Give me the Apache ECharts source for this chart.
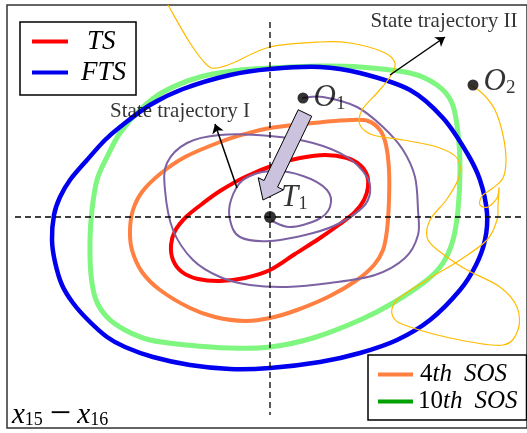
<!DOCTYPE html>
<html>
<head>
<meta charset="utf-8">
<script src="https://cdn.jsdelivr.net/npm/echarts@6/dist/echarts.min.js"></script>
<style>html,body{margin:0;padding:0;background:#fff}#c{width:527px;height:433px}</style>
</head>
<body>
<div id="c"></div>
<script>
// ---- data (state-plane coordinates, origin at target T1) ----
const tsCurve = [[7,53],[30,59],[55,62],[77,59],[90,52],[97,42],[98,30],[94,17],[85,5],[70,-7],[50,-21],[25,-37],[0,-53],[-25,-61],[-50,-64],[-72,-62],[-88,-55],[-97,-43],[-99,-28],[-95,-14],[-84,0],[-68,13],[-50,26],[-25,40],[7,53]];
const ftsCurve = [[0,148],[50,150],[90,144],[140,127],[173,99],[197,64],[210,37],[217,4],[215,-23],[206,-48],[190,-73],[160,-103],[127,-123],[90,-136],[50,-145],[0,-151],[-40,-152],[-80,-148],[-117,-140],[-145,-130],[-163,-120],[-182,-103],[-197,-86],[-208,-68],[-215,-45],[-218,-23],[-216,2],[-210,20],[-200,37],[-183,57],[-165,77],[-150,90],[-120,112],[-87,128],[-40,142],[0,148]];
const sos4Curve = [[0,89],[43,94],[80,97],[98,96],[110,87],[116,72],[119,47],[119,17],[117,-13],[113,-33],[104,-48],[87,-63],[60,-79],[27,-93],[0,-101],[-25,-104],[-55,-100],[-80,-91],[-110,-73],[-128,-55],[-138,-33],[-140,-13],[-137,7],[-128,25],[-110,43],[-85,60],[-50,75],[-25,83],[0,89]];
const sos10Curve = [[0,149],[50,151],[90,150],[140,144],[167,132],[182,114],[188,84],[190,47],[188,7],[183,-23],[173,-46],[157,-63],[123,-86],[90,-103],[43,-121],[0,-130],[-40,-131],[-83,-128],[-120,-123],[-145,-113],[-163,-100],[-174,-83],[-179,-58],[-180,-23],[-178,7],[-173,37],[-163,60],[-150,84],[-130,107],[-107,125],[-70,140],[-30,147],[0,149]];
const trajectoryI = [[33,119],[53,120],[87,110],[113,90],[133,67],[145,40],[148,7],[148,-18],[135,-41],[105,-58],[60,-66],[17,-70],[-20,-68],[-50,-60],[-77,-43],[-97,-13],[-105,27],[-103,54],[-83,74],[-50,82],[0,81],[43,74],[77,60],[97,40],[100,24],[93,10],[70,-6],[43,-16],[0,-24],[-30,-20],[-40,-3],[-39,17],[-27,37],[0,46],[33,41],[57,27],[60,10],[47,-3],[20,-10],[2,-4]];
const trajectoryII = [[201,132],[214,122],[225,107],[233,82],[236,57],[233,39],[223,29],[212,21],[210,12],[218,10],[227,19],[229,29],[228,12],[227,-3],[217,-23],[190,-43],[157,-63],[127,-83],[123,-100],[140,-110],[190,-123],[233,-128],[248,-113],[247,-90],[230,-70],[197,-53],[177,-40],[158,-23],[160,-3],[177,18],[189,40],[187,59],[167,70],[133,77],[103,82],[90,92],[92,107],[107,124],[120,140],[125,154],[113,165],[80,174],[50,175],[0,170],[-37,154],[-53,149],[-63,152],[-80,174],[-102,212]];
const crossH = [[-255,0],[252,0]];
const crossV = [[0,195],[0,-198]];
const pointCoords = [[0,0],[33,119],[203,132]];
const pointNames = ['T','O','O'];
const pointSubs = ['1','1','2'];
const moveArrow = [35,104,-7,17];
const noteArrows = [[[-33,29],[-55,93]],[[120,142],[175,180]]];
const noteTexts = ['State trajectory I','State trajectory II'];
const notePos = [[-90,106],[174,196]];

const SERIF = 'Liberation Serif, Times New Roman, serif';
const chart = echarts.init(document.getElementById('c'), null, {renderer:'canvas'});

// Smooth (Catmull-Rom) path through the projected data points
function splinePath(P, closed){
  const n = P.length;
  const get = i => closed ? P[(i % n + n) % n] : P[Math.max(0, Math.min(n - 1, i))];
  let d = 'M' + P[0][0].toFixed(2) + ' ' + P[0][1].toFixed(2);
  const segs = closed ? n : n - 1;
  for (let i = 0; i < segs; i++){
    const p0 = get(i-1), p1 = get(i), p2 = get(i+1), p3 = get(i+2);
    const c1 = [p1[0] + (p2[0]-p0[0])/6, p1[1] + (p2[1]-p0[1])/6];
    const c2 = [p2[0] - (p3[0]-p1[0])/6, p2[1] - (p3[1]-p1[1])/6];
    d += ' C' + c1[0].toFixed(2) + ' ' + c1[1].toFixed(2) + ' ' + c2[0].toFixed(2) + ' ' + c2[1].toFixed(2) + ' ' + p2[0].toFixed(2) + ' ' + p2[1].toFixed(2);
  }
  if (closed) d += ' Z';
  return d;
}
function curve(name, data, color, width, z, closed){
  return {name, type:'custom', data, z, silent:true, clip:true, itemStyle:{color},
    renderItem:(params, api) => {
      if (params.dataIndex !== 0) return null;
      let pts = data.map(p => api.coord(p));
      if (closed) pts = pts.slice(0, -1);
      return {type:'path', shape:{pathData:splinePath(pts, closed)},
              style:{stroke:color, lineWidth:width, fill:'none', lineJoin:'round', lineCap:'round'}};
    }};
}

const legendFont = {fontFamily:SERIF, fontStyle:'italic', fontSize:27, lineHeight:27, color:'#000'};
const sosFont = {fontFamily:SERIF, fontSize:25, lineHeight:25, color:'#000'};

chart.setOption({
  animation:false,
  grid:{left:7, right:0, top:5, bottom:5, show:true, borderColor:'#333', borderWidth:1.5, backgroundColor:'#fff'},
  xAxis:{type:'value', min:-263, max:257, show:false},
  yAxis:{type:'value', min:-211, max:212, show:false},
  legend:[
    {data:['TS','FTS'], orient:'vertical', left:20, top:22, padding:[6,10,9,12],
     itemWidth:36, itemHeight:4, itemGap:4, icon:'rect',
     borderColor:'#000', borderWidth:1.5, backgroundColor:'#fff', selectedMode:false,
     formatter:n => n==='TS' ? '{g| }{t|TS}' : '{h| }{t|FTS}',
     textStyle:Object.assign({}, legendFont, {rich:{t:legendFont,
       g:{width:14, fontSize:27, lineHeight:27}, h:{width:8, fontSize:27, lineHeight:27}}})},
    {data:[{name:'4th SOS', itemStyle:{color:'#ff8040'}}, {name:'10th SOS', itemStyle:{color:'#00a000'}}],
     orient:'vertical', left:368, top:355, padding:[7,9,6,10],
     itemWidth:35, itemHeight:4, itemGap:2, icon:'rect',
     borderColor:'#000', borderWidth:1.5, backgroundColor:'#fff', selectedMode:false,
     formatter:n => n==='4th SOS' ? '{g| }{n|4}{i|th}{sp| }{i|SOS}' : '{n|10}{i|th}{sp| }{i|SOS}',
     textStyle:Object.assign({}, sosFont, {rich:{
       n:sosFont, i:Object.assign({}, sosFont, {fontStyle:'italic'}),
       g:{width:2, fontSize:25, lineHeight:25}, sp:{width:12, fontSize:25, lineHeight:25}}})}
  ],
  graphic:[{type:'text', left:12, top:396, z:100,
    style:{text:'{v|x}{s|15}{o|−}{v|x}{s|16}', rich:{
      v:{fontFamily:SERIF, fontStyle:'italic', fontSize:29, lineHeight:28},
      s:{fontFamily:SERIF, fontSize:18, verticalAlign:'bottom', lineHeight:17},
      o:{fontFamily:SERIF, fontSize:38, lineHeight:28, padding:[0,6,0,7]}}}}],
  series:[
    curve('10th SOS', sos10Curve, '#7ff67f', 5, 2, true),
    curve('FTS', ftsCurve, '#0000ee', 4.5, 3, true),
    curve('4th SOS', sos4Curve, '#ff8040', 4, 4, true),
    curve('TS', tsCurve, '#ff0000', 4, 5, true),
    curve('State trajectory I', trajectoryI, '#7d62a3', 2, 6, false),
    curve('State trajectory II', trajectoryII, '#ffbb00', 1.2, 6, false),
    {type:'line', data:crossH, showSymbol:false, symbol:'none', z:7, silent:true, lineStyle:{color:'#000', width:1.3, type:[6,4]}},
    {type:'line', data:crossV, showSymbol:false, symbol:'none', z:7, silent:true, lineStyle:{color:'#000', width:1.3, type:[6,4]}},
    {type:'lines', coordinateSystem:'cartesian2d', z:8, silent:true,
     symbol:['none','arrow'], symbolSize:[0,9],
     lineStyle:{color:'#000', width:1.5, opacity:1},
     data:noteArrows.map(c => ({coords:c}))},
    {type:'custom', z:9, silent:true, data:[moveArrow],
     renderItem:(params, api) => {
       const p0 = api.coord([api.value(0), api.value(1)]);
       const p1 = api.coord([api.value(2), api.value(3)]);
       const dx = p1[0]-p0[0], dy = p1[1]-p0[1], L = Math.hypot(dx,dy);
       const ux = dx/L, uy = dy/L, nx = -uy, ny = ux;
       const hl = 18, hw = 14, sw = 7.5;
       const bx = p1[0]-ux*hl, by = p1[1]-uy*hl;
       const pts = [[p0[0]+nx*sw, p0[1]+ny*sw],[bx+nx*sw, by+ny*sw],[bx+nx*hw, by+ny*hw],p1,
                    [bx-nx*hw, by-ny*hw],[bx-nx*sw, by-ny*sw],[p0[0]-nx*sw, p0[1]-ny*sw]];
       return {type:'polygon', shape:{points:pts}, style:{fill:'#cbc3de', stroke:'#000', lineWidth:1}};
     }},
    {type:'scatter', z:10, silent:true, symbolSize:1, itemStyle:{color:'rgba(0,0,0,0)'},
     data:noteTexts.map((t,i) => ({name:t, value:notePos[i]})),
     label:{show:true, position:'inside', formatter:'{b}', fontFamily:SERIF, fontSize:21, color:'#000'}},
    {type:'scatter', z:11, silent:true,
     data:pointCoords.map((c,i) => ({value:c, name:pointNames[i], symbolSize:i===0?12:11,
        label:{offset:i===0?[0,-19]:(i===1?[0,0]:[0,-3])}})),
     itemStyle:{color:'#000'},
     label:{show:true, position:'right', distance:5,
       formatter:p => '{m|' + pointNames[p.dataIndex] + '}{s|' + pointSubs[p.dataIndex] + '}',
       rich:{m:{fontFamily:SERIF, fontStyle:'italic', fontSize:31, lineHeight:32, color:'#000'},
             s:{fontFamily:SERIF, fontSize:19, verticalAlign:'bottom', lineHeight:19, color:'#000'}}}}
  ]
});
</script>
</body>
</html>
